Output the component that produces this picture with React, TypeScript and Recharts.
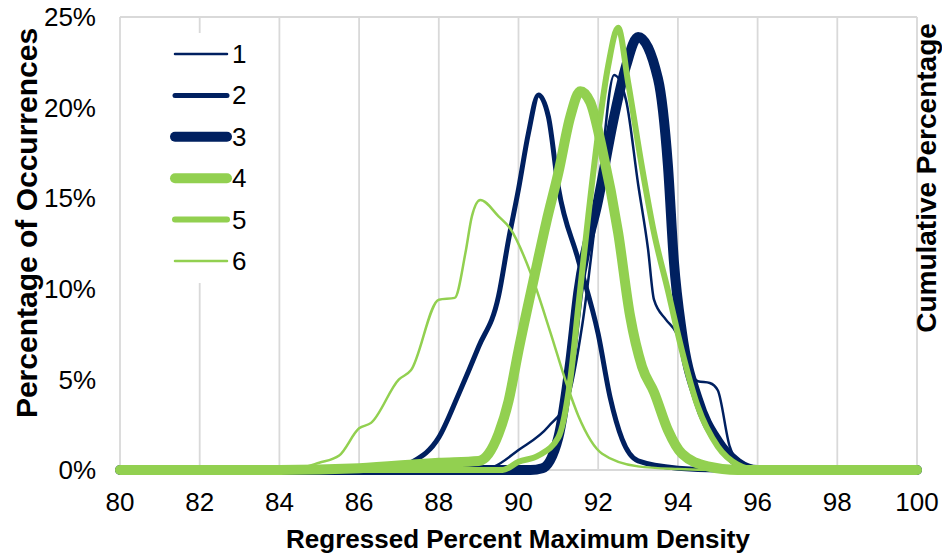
import React from "react";
import {
  LineChart,
  Line,
  XAxis,
  YAxis,
  CartesianGrid,
  Legend,
  Label,
} from "recharts";

const NAVY = "#002060";
const GREEN = "#92D050";
const FONT = "'Liberation Sans', Arial, sans-serif";

const xTicks = [80, 82, 84, 86, 88, 90, 92, 94, 96, 98, 100];
const yTicks = [0, 5, 10, 15, 20, 25];

// series values: x = regressed % max density, y = % of occurrences
const s1X = [80, 89, 89.4, 90, 90.75, 91.25, 91.6, 92, 92.4, 92.7, 93, 93.25, 93.4, 93.7, 93.95, 94.25, 94.5, 94.8, 95, 95.3, 95.6, 96, 100];
const s1Y = [0, 0, 0.2, 1.1, 2.4, 4, 8, 15, 21.8, 20.4, 15.8, 12.2, 9.4, 8.3, 7.6, 5.7, 4.9, 4.8, 4.4, 1.3, 0.3, 0, 0];

const s2X = [80, 86.8, 87.3, 88, 88.5, 89, 89.5, 89.75, 90, 90.25, 90.5, 90.75, 91, 91.5, 92, 92.3, 92.6, 93, 94, 95, 100];
const s2Y = [0, 0, 0.4, 1.8, 4.2, 6.8, 9.6, 12.7, 15.5, 18.6, 20.7, 19.5, 15.6, 11.6, 7.5, 4, 1.7, 0.5, 0.1, 0, 0];

const s3X = [80, 90.3, 90.6, 91, 91.3, 91.5, 92, 92.4, 92.7, 93, 93.5, 93.75, 93.9, 94.1, 94.5, 95, 95.5, 96, 100];
const s3Y = [0, 0, 0.1, 1.8, 6, 9.8, 14.9, 19.5, 22.3, 23.9, 21.6, 16.8, 11.5, 7.6, 3.9, 1.6, 0.4, 0, 0];

const s4X = [80, 84, 86, 88, 89, 89.25, 89.5, 89.75, 90, 90.4, 90.7, 91, 91.3, 91.55, 91.8, 92.1, 92.5, 92.8, 93.1, 93.4, 93.75, 94.1, 94.75, 95.5, 100];
const s4Y = [0, 0, 0.1, 0.4, 0.5, 0.9, 2, 3.8, 6.6, 10.7, 13.7, 16.4, 19.5, 20.9, 20.3, 17.7, 13.1, 8.5, 5.7, 4.3, 2.2, 0.9, 0.2, 0, 0];

const s5X = [80, 89.6, 90, 90.5, 91, 91.3, 91.5, 91.75, 92, 92.25, 92.5, 92.75, 93.1, 93.4, 93.75, 94.1, 94.5, 95, 95.5, 96, 100];
const s5Y = [0, 0, 0.45, 0.8, 1.8, 5, 9, 14, 18.6, 22.3, 24.4, 21.4, 16.7, 13.1, 9.9, 6.6, 3.5, 1.3, 0.3, 0, 0];

const s6X = [80, 84.2, 85, 85.5, 86, 86.3, 87, 87.3, 88, 88.4, 88.67, 88.83, 89.04, 89.5, 89.8, 90.3, 90.8, 91.2, 91.5, 92.1, 93, 94, 95, 100];
const s6Y = [0, 0, 0.4, 0.8, 2.3, 2.6, 5, 5.5, 9.4, 9.5, 12, 14, 14.9, 14, 13.3, 10.9, 7.6, 4.8, 3, 0.9, 0.2, 0.05, 0, 0];

const zip = (xs: number[], ys: number[]) => xs.map((x, i) => ({ x, y: ys[i] }));

const series = [
  { name: "1", data: zip(s1X, s1Y), color: NAVY, width: 2.5 },
  { name: "2", data: zip(s2X, s2Y), color: NAVY, width: 5 },
  { name: "3", data: zip(s3X, s3Y), color: NAVY, width: 10 },
  { name: "4", data: zip(s4X, s4Y), color: GREEN, width: 10 },
  { name: "5", data: zip(s5X, s5Y), color: GREEN, width: 6 },
  { name: "6", data: zip(s6X, s6Y), color: GREEN, width: 2.5 },
];

const LegendBox = () => (
  <svg width={113} height={250} style={{ display: "block" }}>
    <rect x={0} y={0} width={113} height={250} fill="#fff" />
    {series.map((s, i) => {
      const cy = 21 + i * 41.4;
      return (
        <g key={s.name}>
          <line
            x1={25}
            x2={77}
            y1={cy}
            y2={cy}
            stroke={s.color}
            strokeWidth={s.width}
            strokeLinecap="round"
          />
          <text
            x={82}
            y={cy}
            dominantBaseline="central"
            fontFamily={FONT}
            fontSize={26}
            fill="#000"
          >
            {s.name}
          </text>
        </g>
      );
    })}
  </svg>
);

const App = () => {
  return (
    <div style={{ position: "absolute", left: 0, top: 0, width: 942, height: 557, background: "#fff" }}>
      <LineChart
        width={942}
        height={557}
        margin={{ top: 17, right: 0, bottom: 0, left: 0 }}
        style={{ fontFamily: FONT }}
      >
        <CartesianGrid stroke="#d9d9d9" strokeWidth={1.8} />
        <XAxis
          type="number"
          dataKey="x"
          domain={[80, 100]}
          ticks={xTicks}
          interval={0}
          height={87}
          tickLine={false}
          axisLine={false}
          tickSize={0}
          tickMargin={23}
          tick={{ fill: "#000", fontSize: 26 }}
          allowDuplicatedCategory={false}
        >
          <Label
            content={() => (
              <text x={518} y={548} textAnchor="middle" fontFamily={FONT} fontSize={26} fontWeight="bold" fill="#000">
                Regressed Percent Maximum Density
              </text>
            )}
          />
        </XAxis>
        <YAxis
          yAxisId="left"
          type="number"
          domain={[0, 25]}
          ticks={yTicks}
          width={120}
          tickLine={false}
          axisLine={false}
          tickSize={0}
          tickMargin={24}
          tickFormatter={(v: number) => `${v}%`}
          tick={{ fill: "#000", fontSize: 26 }}
        >
          <Label
            content={() => (
              <text
                x={37}
                y={223}
                transform="rotate(-90, 37, 223)"
                textAnchor="middle"
                fontFamily={FONT}
                fontSize={30}
                fontWeight="bold"
                fill="#000"
              >
                Percentage of Occurrences
              </text>
            )}
          />
        </YAxis>
        <YAxis
          yAxisId="right"
          orientation="right"
          type="number"
          domain={[0, 1]}
          width={25}
          tick={false}
          tickLine={false}
          axisLine={false}
        >
          <Label
            content={() => (
              <text
                x={936}
                y={178}
                transform="rotate(-90, 936, 178)"
                textAnchor="middle"
                fontFamily={FONT}
                fontSize={28}
                fontWeight="bold"
                fill="#000"
              >
                Cumulative Percentage
              </text>
            )}
          />
        </YAxis>
        <Legend
          layout="vertical"
          align="center"
          verticalAlign="middle"
          wrapperStyle={{ left: 150, top: 33, width: 113, height: 250 }}
          content={() => <LegendBox />}
        />
        {series.map((s) => (
          <Line
            key={s.name}
            yAxisId="left"
            data={s.data}
            dataKey="y"
            name={s.name}
            type="monotone"
            stroke={s.color}
            strokeWidth={s.width}
            strokeLinecap="round"
            strokeLinejoin="round"
            dot={false}
            activeDot={false}
            isAnimationActive={false}
          />
        ))}
      </LineChart>
    </div>
  );
};

export default App;
